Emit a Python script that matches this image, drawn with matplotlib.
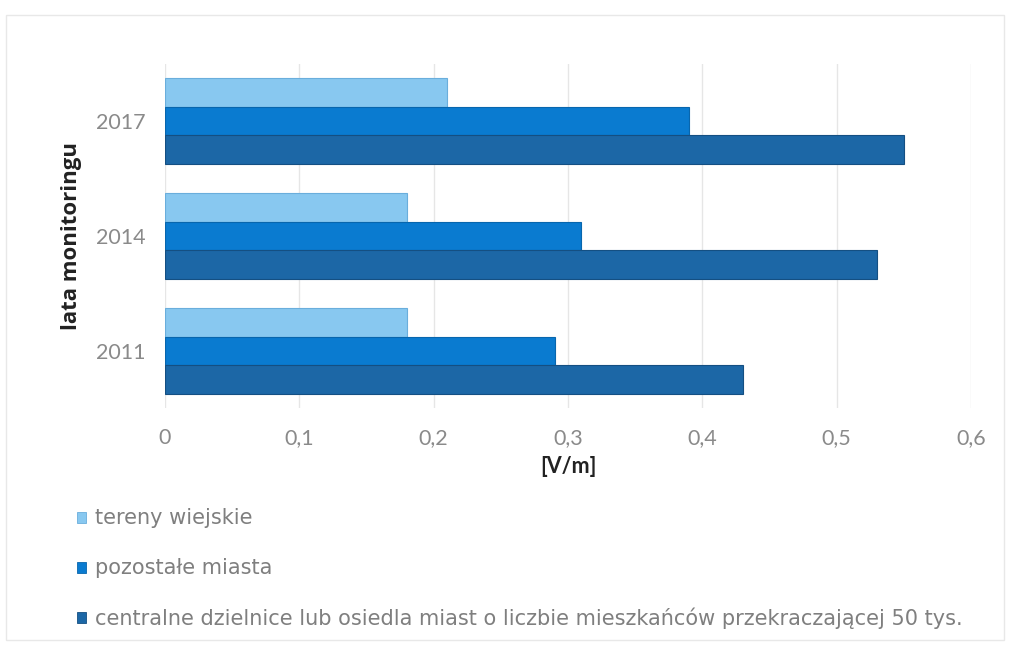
import matplotlib
matplotlib.use("Agg")
import matplotlib.pyplot as plt
from matplotlib.patches import Rectangle
import numpy as np

plt.rcParams['font.family'] = ['Lato', 'DejaVu Sans']

years = ["2011", "2014", "2017"]
series_names = [
    "tereny wiejskie",
    "pozostałe miasta",
    "centralne dzielnice lub osiedla miast o liczbie mieszkańców przekraczającej 50 tys.",
]
rural = [0.18, 0.18, 0.21]
other_cities = [0.29, 0.31, 0.39]
city_centres = [0.43, 0.53, 0.55]
x_ticks = [0, 0.1, 0.2, 0.3, 0.4, 0.5, 0.6]
x_tick_labels = ["0", "0,1", "0,2", "0,3", "0,4", "0,5", "0,6"]

colors = ["#88c8f0", "#0a7bd0", "#1c67a6"]
edges = ["#6aaedc", "#0866ad", "#144f82"]

fig = plt.figure(figsize=(10.11, 6.48), dpi=100)
ax = fig.add_axes([0.1632, 0.3696, 0.7972, 0.5324])

pos = np.arange(len(years))
h = 0.252
offsets = [h, 0.0, -h]
for vals, off, c, ec in zip([rural, other_cities, city_centres], offsets, colors, edges):
    ax.barh(pos + off, vals, height=h, color=c, edgecolor=ec, linewidth=0.8, zorder=3)

ax.set_xlim(0, 0.6)
ax.set_ylim(-0.5, 2.5)
ax.set_xticks(x_ticks)
ax.set_xticklabels(x_tick_labels)
ax.set_yticks(pos)
ax.set_yticklabels(years)
ax.tick_params(axis='both', length=0, colors="#8a8a8a", labelsize=15.5)
ax.tick_params(axis='x', pad=14)
ax.tick_params(axis='y', pad=14)
for s in ax.spines.values():
    s.set_visible(False)
ax.grid(axis='x', color="#e6e6e6", linewidth=1.0, zorder=0)

ax.set_xlabel("[V/m]", fontsize=15.5, fontweight='bold', color="#222222", labelpad=6)
ax.set_ylabel("lata monitoringu", fontsize=16, fontweight='bold', color="#222222",
              labelpad=10, family=['Open Sans', 'DejaVu Sans'])

# legend rows below the plot
legend_y = [518, 568, 618]
for name, c, ec, yy in zip(series_names, colors, edges, legend_y):
    yf = 1 - yy / 648
    fig.patches.append(Rectangle((77 / 1011, yf - 5 / 648), 9 / 1011, 11 / 648,
                                 transform=fig.transFigure, facecolor=c,
                                 edgecolor=ec, linewidth=0.6))
    fig.text(95 / 1011, yf, name, fontsize=15, color="#7f7f7f", va='center', ha='left',
             family=['DejaVu Sans'])

# light frame around the chart area
fig.patches.append(Rectangle((6 / 1011, 8 / 648), 998 / 1011, 625 / 648,
                             transform=fig.transFigure, fill=False,
                             edgecolor="#e8e8e8", linewidth=1.0))

fig.savefig("out.png", dpi=100)
